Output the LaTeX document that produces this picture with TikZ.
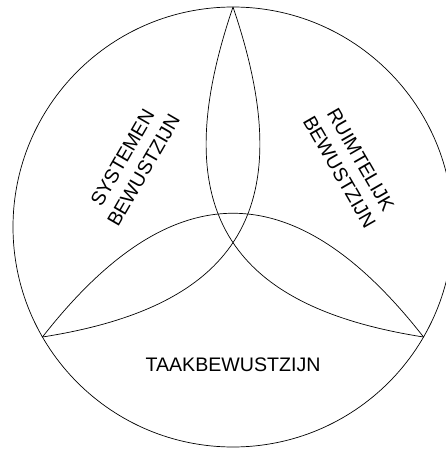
\documentclass[tikz,border=0pt]{standalone}
\usepackage{fontspec}
\setmainfont{Liberation Sans}

\begin{document}
\begin{tikzpicture}[x=1pt, y=1pt, line width=0.7pt, font=\fontsize{19.6}{24.5}\selectfont]
  \def\R{220}
  \useasboundingbox (-233,-223) rectangle (212,227);
  % outer circle
  \coordinate (c) at (0,0);
  \draw (c) circle (\R);
  % corners where the arcs meet the rim
  \coordinate (top) at (90:\R);
  \coordinate (left) at (210:\R);
  \coordinate (right) at (330:\R);
  % three arcs crossing near the centre
  \draw (left) .. controls (-61.5,55) and (61.5,55) .. (right);
  \draw (top) .. controls (68.6,18.8) and (6.2,-79.2) .. (left);
  \draw (right) .. controls (-6.2,-79.2) and (-68.6,18.8) .. (top);
  % labels
  \node[rotate=60, align=center] (sys) at (-100,63) {SYSTEMEN\\BEWUSTZIJN};
  \node[rotate=-60, align=center] (ruim) at (117,61) {RUIMTELIJK\\BEWUSTZIJN};
  \node (taak) at (0,-138) {TAAKBEWUSTZIJN};
\end{tikzpicture}
\end{document}
